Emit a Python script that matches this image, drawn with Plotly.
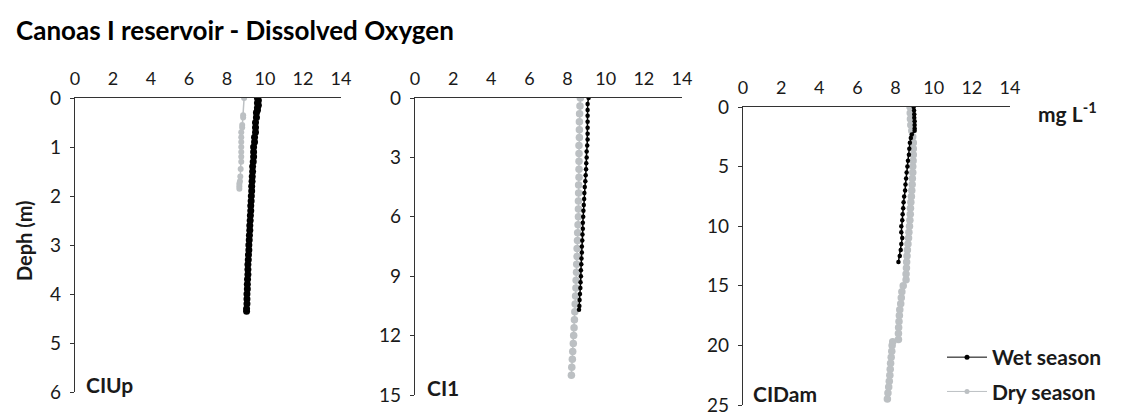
import plotly.graph_objects as go

# ---- data (depth in m, dissolved oxygen in mg/L) ----
up_wet_depth = [0.0, 0.05, 0.1, 0.15, 0.2, 0.25, 0.3, 0.4, 0.5, 0.6, 0.7, 0.8, 0.9, 1.0, 1.1, 1.2, 1.3, 1.4, 1.5, 1.6,
                1.7, 1.8, 1.9, 2.0, 2.1, 2.2, 2.3, 2.4, 2.5, 2.6, 2.7, 2.8, 2.9, 3.0, 3.1, 3.2, 3.3, 3.4, 3.5, 3.6,
                3.7, 3.8, 3.9, 4.0, 4.1, 4.2, 4.3, 4.35]
up_wet_do = [9.6, 9.65, 9.6, 9.65, 9.6, 9.6, 9.55, 9.55, 9.5, 9.5, 9.5, 9.45, 9.45, 9.4, 9.4, 9.4, 9.38, 9.35, 9.35, 9.33,
             9.32, 9.3, 9.3, 9.28, 9.27, 9.25, 9.25, 9.23, 9.22, 9.2, 9.2, 9.18, 9.17, 9.15, 9.15, 9.13, 9.12, 9.1, 9.1, 9.1,
             9.08, 9.07, 9.07, 9.05, 9.05, 9.05, 9.03, 9.03]
up_dry_depth = [0.0, 0.35, 0.4, 0.55, 0.6, 0.7, 0.8, 0.9, 1.0, 1.1, 1.2, 1.3, 1.45, 1.6, 1.7, 1.75, 1.8, 1.85]
up_dry_do = [8.9, 8.85, 8.85, 8.8, 8.8, 8.75, 8.75, 8.75, 8.75, 8.75, 8.75, 8.75, 8.72, 8.7, 8.68, 8.65, 8.65, 8.65]

c1_wet_depth = [0.0, 0.3, 0.6, 0.9, 1.2, 1.5, 1.8, 2.1, 2.4, 2.7, 3.0, 3.3, 3.6, 3.9, 4.2, 4.5, 4.8, 5.1, 5.4, 5.7,
                6.0, 6.3, 6.6, 6.9, 7.2, 7.5, 7.8, 8.1, 8.4, 8.7, 9.0, 9.3, 9.6, 9.9, 10.2, 10.5, 10.7]
c1_wet_do = [9.1, 9.05, 9.05, 9.05, 9.05, 9.05, 9.05, 9.05, 9.03, 9.0, 9.0, 8.98, 8.97, 8.95, 8.93, 8.9, 8.88, 8.87, 8.85, 8.83,
             8.82, 8.8, 8.8, 8.78, 8.77, 8.75, 8.75, 8.73, 8.72, 8.7, 8.7, 8.68, 8.67, 8.65, 8.63, 8.62, 8.6]
c1_dry_depth = [0.0, 0.4, 0.8, 1.2, 1.6, 2.0, 2.4, 2.8, 3.2, 3.6, 4.0, 4.4, 4.8, 5.2, 5.6, 6.0, 6.4, 6.8, 7.2, 7.6,
                8.0, 8.4, 8.8, 9.2, 9.6, 10.0, 10.4, 10.8, 11.2, 11.6, 12.0, 12.4, 12.8, 13.2, 13.6, 14.0]
c1_dry_do = [8.67, 8.65, 8.63, 8.62, 8.62, 8.62, 8.6, 8.6, 8.6, 8.6, 8.6, 8.58, 8.58, 8.57, 8.57, 8.57, 8.55, 8.53, 8.52, 8.5,
             8.5, 8.48, 8.47, 8.45, 8.44, 8.42, 8.4, 8.38, 8.36, 8.34, 8.32, 8.3, 8.27, 8.25, 8.22, 8.2]

dam_wet_depth = [0.0, 0.3, 0.6, 0.9, 1.2, 1.5, 1.8, 2.0, 2.3, 2.6, 3.0, 3.5, 4.0, 4.5, 5.0, 5.5, 6.0, 6.5, 7.0, 7.5,
                 8.0, 8.5, 9.0, 9.5, 10.0, 10.5, 11.0, 11.5, 12.0, 12.5, 13.0]
dam_wet_do = [8.95, 8.97, 8.98, 8.98, 9.0, 9.0, 9.0, 9.0, 8.85, 8.8, 8.75, 8.72, 8.7, 8.65, 8.62, 8.58, 8.55, 8.52, 8.5, 8.45,
              8.42, 8.4, 8.37, 8.35, 8.3, 8.3, 8.35, 8.3, 8.27, 8.22, 8.15]
dam_dry_depth = [0.0, 0.5, 1.0, 1.5, 2.0, 2.5, 3.0, 3.5, 4.0, 4.5, 5.0, 5.5, 6.0, 6.5, 7.0, 7.5, 8.0, 8.5, 9.0, 9.5,
                 10.0, 10.5, 11.0, 11.5, 12.0, 12.5, 13.0, 13.5, 14.0, 14.5, 15.0, 15.5, 16.0, 16.5, 17.0, 17.5, 18.0,
                 18.5, 19.0, 19.5, 19.7, 20.0, 20.5, 21.0, 21.5, 22.0, 22.5, 23.0, 23.5, 24.0, 24.5]
dam_dry_do = [8.76, 8.77, 8.78, 8.8, 8.85, 8.9, 8.93, 8.93, 8.93, 8.92, 8.9, 8.9, 8.88, 8.87, 8.85, 8.83, 8.8, 8.78, 8.77, 8.75,
              8.73, 8.7, 8.68, 8.65, 8.62, 8.6, 8.58, 8.57, 8.55, 8.55, 8.4, 8.33, 8.3, 8.27, 8.22, 8.2, 8.18,
              8.16, 8.15, 8.15, 7.85, 7.82, 7.8, 7.77, 7.74, 7.72, 7.7, 7.67, 7.64, 7.6, 7.57]

panel_names = ["CIUp", "CI1", "CIDam"]
depth_max = [6, 15, 25]
depth_dtick = [1, 3, 5]
x_ticks = [0, 2, 4, 6, 8, 10, 12, 14]
series_names = ["Wet season", "Dry season"]

OFF = 8                      # page body margin in the browser
W, H = 1124 - OFF, 414 - OFF
FONT = "Lato"
TXT = "#1a1a1a"
GREY = "#bcc0c3"


def px(x):
    return (x - OFF) / W


def py(y):
    return 1 - (y - OFF) / H


# panel pixel boxes in the target picture: (x0, x1, ytop, ybottom)
boxes = [(75, 341, 98, 392), (415, 682, 98, 395), (743, 1010, 107, 405)]
wet_sizes = [7, 4.5, 4.5]
dry_sizes = [6, 7.5, 7.5]

fig = go.Figure()
panels = [
    (up_wet_depth, up_wet_do, up_dry_depth, up_dry_do),
    (c1_wet_depth, c1_wet_do, c1_dry_depth, c1_dry_do),
    (dam_wet_depth, dam_wet_do, dam_dry_depth, dam_dry_do),
]
for i, (wd, wv, dd, dv) in enumerate(panels):
    xa = "x" if i == 0 else f"x{i+1}"
    ya = "y" if i == 0 else f"y{i+1}"
    fig.add_trace(go.Scatter(x=dv, y=dd, xaxis=xa, yaxis=ya, mode="lines+markers",
                             name=series_names[1], showlegend=False,
                             line=dict(color=GREY, width=1.5),
                             marker=dict(color=GREY, size=dry_sizes[i])))
    fig.add_trace(go.Scatter(x=wv, y=wd, xaxis=xa, yaxis=ya, mode="lines+markers",
                             name=series_names[0], showlegend=False,
                             line=dict(color="black", width=1.5),
                             marker=dict(color="black", size=wet_sizes[i])))

# legend entries (no data drawn)
fig.add_trace(go.Scatter(x=[None], y=[None], xaxis="x3", yaxis="y3", mode="lines+markers",
                         name=series_names[0], legendgroup="w", legendrank=1,
                         line=dict(color="black", width=1), marker=dict(color="black", size=5)))
fig.add_trace(go.Scatter(x=[None], y=[None], xaxis="x3", yaxis="y3", mode="lines+markers",
                         name=series_names[1], legendgroup="d", legendrank=2,
                         line=dict(color=GREY, width=1), marker=dict(color=GREY, size=5)))

layout = dict(width=W, height=H, margin=dict(l=0, r=0, t=0, b=0, autoexpand=False),
              paper_bgcolor="white", plot_bgcolor="white",
              font=dict(family=FONT, size=18, color=TXT))
for i, (x0, x1, yt, yb) in enumerate(boxes):
    sx = "" if i == 0 else str(i + 1)
    layout[f"xaxis{sx}"] = dict(domain=[px(x0), px(x1)], anchor=f"y{sx}", side="top",
                                range=[0, 14], tickvals=x_ticks, showgrid=False, zeroline=False,
                                showline=True, linecolor="#333", linewidth=1.2, ticks="",
                                ticklabelstandoff=5, fixedrange=True, automargin=False,
                                tickfont=dict(family=FONT, size=18, color=TXT))
    layout[f"yaxis{sx}"] = dict(domain=[py(yb), py(yt)], anchor=f"x{sx}",
                                range=[depth_max[i], 0], dtick=depth_dtick[i], tick0=0,
                                showgrid=False, zeroline=False, showline=True,
                                linecolor="#333", linewidth=1.2, ticks="outside", ticklen=4,
                                tickcolor="#333", ticklabelstandoff=5, fixedrange=True,
                                automargin=False, ticklabeloverflow="allow",
                                tickfont=dict(family=FONT, size=19, color=TXT))
fig.update_layout(**layout)

annots = [
    dict(text="<b>Canoas I reservoir - Dissolved Oxygen</b>", x=px(14), y=py(30),
         xanchor="left", yanchor="middle", font=dict(size=26, color="black")),
    dict(text="<b>Deph (m)</b>", x=px(24), y=py(241), textangle=-90,
         xanchor="center", yanchor="middle", font=dict(size=20, color=TXT)),
    dict(text="<b>mg L<sup>-1</sup></b>", x=px(1036), y=py(112),
         xanchor="left", yanchor="middle", font=dict(size=21, color=TXT)),
]
label_pos = [(84, 384), (425, 387), (751, 393)]
for name, (lx, ly) in zip(panel_names, label_pos):
    annots.append(dict(text=f"<b>{name}</b>", x=px(lx), y=py(ly), xanchor="left",
                       yanchor="middle", font=dict(size=21, color=TXT)))
for a in annots:
    a.update(xref="paper", yref="paper", showarrow=False)
fig.update_layout(annotations=annots)

fig.update_layout(legend=dict(x=px(942), y=py(337), xanchor="left", yanchor="top",
                              bgcolor="rgba(0,0,0,0)", tracegroupgap=4,
                              font=dict(family=FONT, size=21, color=TXT, weight="bold"),
                              itemwidth=40))

fig.write_html("out.html")
